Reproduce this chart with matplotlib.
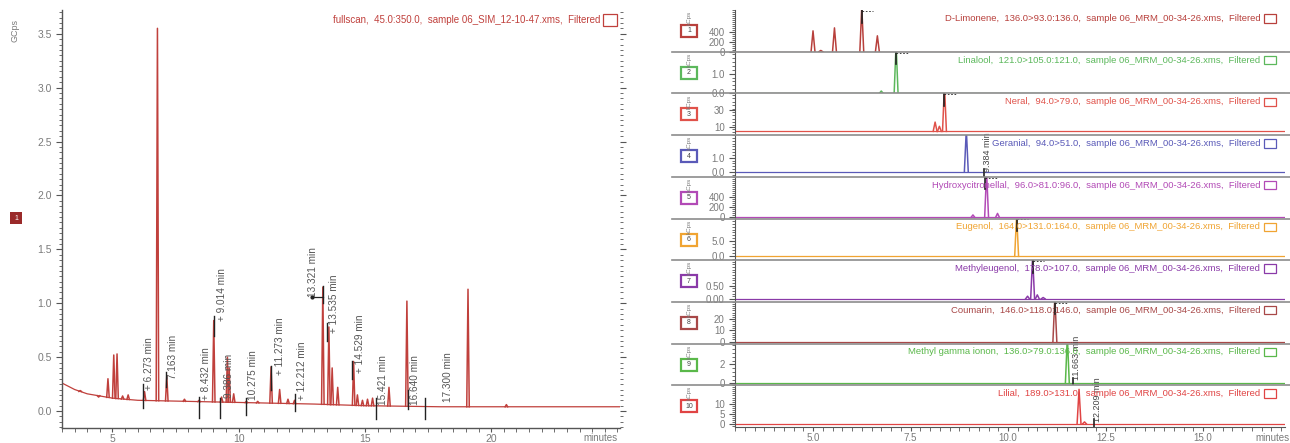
import matplotlib
matplotlib.use("Agg")
import matplotlib.pyplot as plt
from matplotlib.patches import Rectangle
from matplotlib.lines import Line2D
from matplotlib.ticker import MultipleLocator, FixedLocator
import numpy as np

plt.rcParams['font.family'] = ['Liberation Sans', 'DejaVu Sans']

# ---- full-scan TIC (left) ----
tic_title = "fullscan,  45.0:350.0,  sample 06_SIM_12-10-47.xms,  Filtered"
base_t = [3.0, 3.5, 4.0, 5.0, 6.0, 8.0, 10.0, 13.0, 15.0, 18.0, 21.0, 25.1]
base_y = [0.26, 0.20, 0.16, 0.12, 0.10, 0.09, 0.08, 0.065, 0.05, 0.04, 0.04, 0.04]
peak_t = [3.72, 4.45, 4.82, 5.05, 5.18, 5.40, 5.62, 6.27, 6.78, 7.15, 7.85,
          8.43, 9.01, 9.32, 9.55, 9.62, 9.80, 10.30, 10.75, 11.28, 11.62,
          11.95, 12.21, 13.33, 13.57, 13.70, 13.92, 14.55, 14.70, 14.90,
          15.10, 15.30, 15.95, 16.66, 19.08, 20.60]
peak_h = [0.19, 0.13, 0.30, 0.52, 0.53, 0.14, 0.15, 0.18, 3.55, 0.33, 0.11,
          0.10, 0.84, 0.13, 0.50, 0.40, 0.16, 0.09, 0.09, 0.41, 0.20,
          0.11, 0.10, 1.15, 0.78, 0.40, 0.22, 0.46, 0.15, 0.10,
          0.11, 0.12, 0.22, 1.02, 1.13, 0.06]

# labelled retention times: text, text x, text bottom y, marker x, marker y0, y1
rt_text = ["+ 6.273 min", "7.163 min", "+ 8.432 min", "+ 9.014 min", "9.386 min",
           "10.275 min", "+ 11.273 min", "+ 12.212 min", "13.321 min",
           "+ 13.535 min", "+ 14.529 min", "15.421 min", "16.640 min", "17.300 min"]
rt_tx = [6.45, 7.38, 8.72, 9.32, 9.60, 10.55, 11.62, 12.50, 12.95, 13.78,
         14.80, 15.72, 16.98, 18.28]
rt_ty = [0.20, 0.30, 0.10, 0.84, 0.12, 0.10, 0.33, 0.10, 1.06, 0.72,
         0.35, 0.06, 0.06, 0.08]
rt_mx = [6.22, 7.13, 8.43, 9.01, 9.27, 10.27, 11.27, 12.21, 13.32, 13.50,
         14.50, 15.42, 16.70, 17.37]
rt_my0 = [0.03, 0.22, -0.06, 0.70, -0.06, -0.04, 0.20, 0.00, 1.00, 0.65,
          0.30, -0.07, 0.02, -0.07]
rt_my1 = [0.25, 0.36, 0.13, 0.88, 0.12, 0.12, 0.42, 0.16, 1.16, 0.82,
          0.46, 0.12, 0.20, 0.12]

# ---- MRM channels (right) ----
ch_name = ["D-Limonene", "Linalool", "Neral", "Geranial", "Hydroxycitronellal",
           "Eugenol", "Methyleugenol", "Coumarin", "Methyl gamma ionon", "Lilial"]
ch_trans = ["136.0>93.0:136.0", "121.0>105.0:121.0", "94.0>79.0", "94.0>51.0",
            "96.0>81.0:96.0", "164.0>131.0:164.0", "178.0>107.0",
            "146.0>118.0:146.0", "136.0>79.0:136.0", "189.0>131.0"]
ch_color = ["#b8403c", "#5cb85c", "#e0524a", "#5a5ab8", "#b24ab6",
            "#f0a432", "#8a3aa8", "#a84848", "#5ab84a", "#e04444"]
ch_ylim = [(0, 840), (0, 2.1), (0.6, 50), (-0.35, 2.6), (-20, 800),
           (-1.3, 12.7), (-0.115, 1.46), (-1.8, 35.5), (-0.2, 4.2), (-1.5, 19)]
ch_ticks = [[0, 200, 400], [0.0, 1.0], [10, 30], [0.0, 1.0], [0, 200, 400],
            [0.0, 5.0], [0.0, 0.5], [0, 10, 20], [0, 2], [0, 5, 10]]
ch_ticklabels = [["0", "200", "400"], ["0.0", "1.0"], ["10", "30"], ["0.0", "1.0"],
                 ["0", "200", "400"], ["0.0", "5.0"], ["0.00", "0.50"],
                 ["0", "10", "20"], ["0", "2"], ["0", "5", "10"]]
ch_base = [0, 0, 5, 0, 0, 0, 0, 0, 0, 0]
ch_peak_t = [[5.00, 5.20, 5.55, 6.25, 6.65], [6.75, 7.13], [8.13, 8.24, 8.37],
             [8.93], [9.10, 9.45, 9.73], [10.22], [10.50, 10.63, 10.75, 10.90],
             [11.20], [11.52], [11.82, 11.96]]
ch_peak_h = [[420, 25, 480, 900, 320], [0.12, 2.5], [16, 11, 60], [3.0],
             [50, 900, 80], [14], [0.10, 1.6, 0.15, 0.05], [40], [5.0], [17, 1.0]]
# marker at a retention time (None = peak apex marker only)
ch_rt_label = [None, None, None, "9.384 min", None, None, None, None,
               "11.663 min", "12.209 min"]
ch_rt = [6.25, 7.13, 8.37, 9.384, 9.42, 10.22, 10.63, 11.20, 11.663, 12.209]

W, H = 1290, 443
fig = plt.figure(figsize=(W / 100, H / 100), dpi=100)


def fx(px):
    return px / W


def fy(py):
    return 1 - py / H


grey = "#7a7a7a"
axis_col = "#555555"

# ---------------- left chart ----------------
ax = fig.add_axes([fx(62), fy(428), fx(620 - 62), fy(10) - fy(428)])
ax.plot(base_t, base_y, color="#c0403c", lw=0.9)
for t, h in zip(peak_t, peak_h):
    b = np.interp(t, base_t, base_y)
    ax.plot([t - 0.05, t, t + 0.05], [b, h, b], color="#c0403c", lw=1.1)
for txt, tx, ty, mx, m0, m1 in zip(rt_text, rt_tx, rt_ty, rt_mx, rt_my0, rt_my1):
    ax.plot([mx, mx], [m0, m1], color="#222222", lw=1.0)
    ax.text(tx, ty, txt, rotation=90, ha="center", va="bottom", fontsize=7.2,
            color="#555555")
# bracket for 13.321
ax.plot([12.9, 13.32], [1.06, 1.06], color="#222222", lw=0.9)
ax.plot([12.9], [1.06], "o", color="#222222", ms=2)

ax.set_xlim(3.0, 25.1)
ax.set_ylim(-0.157, 3.72)
ax.xaxis.set_major_locator(FixedLocator([5, 10, 15, 20]))
ax.xaxis.set_minor_locator(MultipleLocator(0.5))
ax.yaxis.set_major_locator(MultipleLocator(0.5))
ax.yaxis.set_minor_locator(MultipleLocator(0.05))
ax.yaxis.set_major_formatter(plt.FuncFormatter(lambda v, p: f"{v:.1f}"))
for s in ["top", "right"]:
    ax.spines[s].set_visible(False)
for s in ["left", "bottom"]:
    ax.spines[s].set_color(axis_col)
    ax.spines[s].set_linewidth(1.0)
ax.tick_params(which="both", colors=axis_col, labelcolor=grey, labelsize=7.5)
ax.tick_params(which="major", length=4)
ax.tick_params(which="minor", length=2)
ax.tick_params(axis="x", which="both", pad=1, length=3)
ax.tick_params(axis="y", which="both", right=True, direction="out")
ax.text(0.965, 0.975, tic_title, transform=ax.transAxes, ha="right", va="center",
        fontsize=7, color="#c0403c")
ax.add_patch(Rectangle((0.97, 0.962), 0.024, 0.028, transform=ax.transAxes,
                       fill=False, ec="#c0403c", lw=0.9, clip_on=False))
fig.text(fx(600), fy(438), "minutes", fontsize=7, color=grey, ha="center", va="center")
fig.text(fx(15), fy(30), "GCps", rotation=90, fontsize=6.5, color=grey,
         ha="center", va="center")
fig.patches.append(Rectangle((fx(10), fy(224)), fx(12), fy(212) - fy(224),
                             transform=fig.transFigure, fc="#9a2a2a", ec="none"))
fig.text(fx(16), fy(218), "1", fontsize=5, color="white", ha="center", va="center")

# ---------------- right chart: stacked MRM channels ----------------
top_px, pan_px = 10, 41.7
for i in range(10):
    y_top = top_px + i * pan_px
    y_bot = y_top + pan_px
    a = fig.add_axes([fx(735), fy(y_bot), fx(1285 - 735), fy(y_top) - fy(y_bot)])
    col = ch_color[i]
    a.plot([3.0, 17.1], [ch_base[i], ch_base[i]], color=col, lw=0.9)
    for t, h in zip(ch_peak_t[i], ch_peak_h[i]):
        a.plot([t - 0.05, t, t + 0.05], [ch_base[i], h, ch_base[i]], color=col, lw=1.1)
    lo, hi = ch_ylim[i]
    if ch_rt_label[i] is None:
        # apex marker at the top of the channel
        a.plot([ch_rt[i], ch_rt[i]], [hi - (hi - lo) * 0.3, hi], color="#222222", lw=1.2)
        a.plot([ch_rt[i], ch_rt[i] + 0.3], [hi - (hi - lo) * 0.02] * 2,
               color="#222222", lw=0.6, ls=(0, (2, 2)))
    else:
        a.plot([ch_rt[i], ch_rt[i]], [lo, lo + (hi - lo) * 0.18], color="#222222", lw=1.2)
        a.text(ch_rt[i] + 0.08, lo + (hi - lo) * 0.12, ch_rt_label[i], rotation=90,
               ha="center", va="bottom", fontsize=6.5, color="#444444")
    a.set_xlim(3.0, 17.1)
    a.set_ylim(lo, hi)
    a.set_yticks(ch_ticks[i])
    a.set_yticklabels(ch_ticklabels[i])
    step = ch_ticks[i][1] - ch_ticks[i][0]
    a.yaxis.set_minor_locator(MultipleLocator(step / 5))
    for s in ["top", "right", "bottom"]:
        a.spines[s].set_visible(False)
    a.spines["left"].set_color(axis_col)
    a.tick_params(which="both", colors=axis_col, labelcolor=grey, labelsize=7)
    a.tick_params(which="major", length=4)
    a.tick_params(which="minor", length=2)
    a.text(0.955, 0.80, f"{ch_name[i]},  {ch_trans[i]},  sample 06_MRM_00-34-26.xms,  Filtered",
           transform=a.transAxes, ha="right", va="center", fontsize=6.8, color=col)
    a.add_patch(Rectangle((0.962, 0.70), 0.022, 0.2, transform=a.transAxes,
                          fill=False, ec=col, lw=0.9, clip_on=False))
    # channel tag on the left
    fig.patches.append(Rectangle((fx(681), fy(y_top + 27)), fx(16), fy(y_top + 15) - fy(y_top + 27),
                                 transform=fig.transFigure, fill=False, ec=col, lw=1.6))
    fig.text(fx(689), fy(y_top + 21), str(i + 1), fontsize=5, color="#444444",
             ha="center", va="center")
    fig.text(fx(689), fy(y_top + 8), "kCps", rotation=90, fontsize=4.5, color=grey,
             ha="center", va="center")
    if i < 9:
        fig.lines.append(Line2D([fx(672), fx(1290)], [fy(y_bot), fy(y_bot)],
                                transform=fig.transFigure, color="#8c8c8c", lw=1.2))
        a.set_xticks([])
    else:
        a.spines["bottom"].set_visible(True)
        a.spines["bottom"].set_color(axis_col)
        a.set_xticks([5.0, 7.5, 10.0, 12.5, 15.0])
        a.set_xticklabels(["5.0", "7.5", "10.0", "12.5", "15.0"])
        a.xaxis.set_minor_locator(MultipleLocator(0.25))
        a.tick_params(axis="x", which="both", pad=1, length=3)

fig.text(fx(1272), fy(438), "minutes", fontsize=7, color=grey, ha="center", va="center")

fig.savefig("out.png", dpi=100, facecolor="white")
